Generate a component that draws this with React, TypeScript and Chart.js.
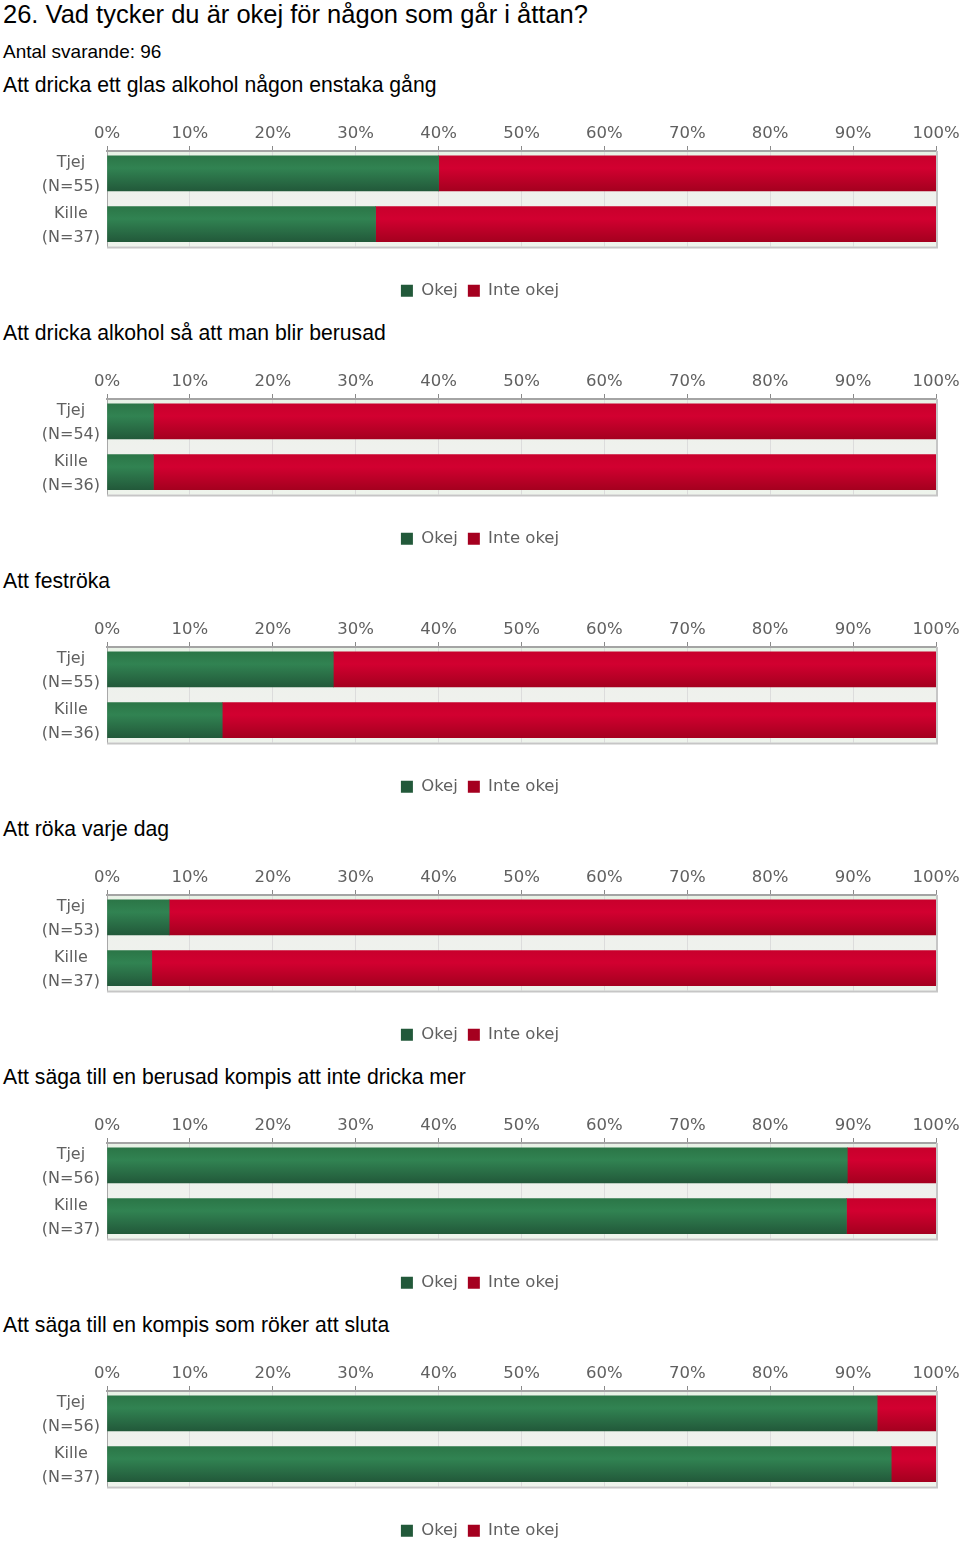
import React, { useEffect, useRef } from "react";
import { Chart, registerables } from "chart.js";

Chart.register(...registerables);

const heading = "26. Vad tycker du är okej för någon som går i åttan?";
const respondents = "Antal svarande: 96";

const questions = [
  "Att dricka ett glas alkohol någon enstaka gång",
  "Att dricka alkohol så att man blir berusad",
  "Att feströka",
  "Att röka varje dag",
  "Att säga till en berusad kompis att inte dricka mer",
  "Att säga till en kompis som röker att sluta",
];

const groups = ["Tjej", "Kille"];
const groupN = [
  [55, 37],
  [54, 36],
  [55, 36],
  [53, 37],
  [56, 37],
  [56, 37],
];

const seriesNames = ["Okej", "Inte okej"];
const okej = [
  [40.0, 32.4],
  [5.6, 5.6],
  [27.3, 13.9],
  [7.5, 5.4],
  [89.3, 89.2],
  [92.9, 94.6],
];
const inteOkej = [
  [60.0, 67.6],
  [94.4, 94.4],
  [72.7, 86.1],
  [92.5, 94.6],
  [10.7, 10.8],
  [7.1, 5.4],
];

const GREEN_STOPS: [number, string][] = [
  [0, "#2b7647"],
  [0.35, "#318352"],
  [1, "#22593a"],
];
const RED_STOPS: [number, string][] = [
  [0, "#c8002c"],
  [0.35, "#d20030"],
  [1, "#a5001f"],
];
const BAR_THICKNESS = 35;
const TICK_FONT = { family: "'DejaVu Sans', sans-serif", size: 16.5 };
const LABEL_FONT = { family: "'DejaVu Sans', sans-serif", size: 16, lineHeight: 1.5 };

function barFill(stops: [number, string][], flat: string) {
  return (ctx: any) => {
    if (ctx.type !== "data") return flat;
    const chart = ctx.chart;
    const ys = chart.scales && chart.scales.y;
    if (!ys || !chart.chartArea) return flat;
    const c = ys.getPixelForValue(ctx.dataIndex);
    const g = chart.ctx.createLinearGradient(0, c - BAR_THICKNESS / 2, 0, c + BAR_THICKNESS / 2);
    stops.forEach(([o, col]) => g.addColorStop(o, col));
    return g;
  };
}

const plotFrame = {
  id: "plotFrame",
  beforeDraw(chart: any) {
    const { ctx, chartArea: a } = chart;
    ctx.save();
    const g = ctx.createLinearGradient(0, a.top, 0, a.bottom);
    g.addColorStop(0, "#e8f2e6");
    g.addColorStop(0.5, "#eff1ed");
    g.addColorStop(1, "#eef4ec");
    ctx.fillStyle = g;
    ctx.fillRect(a.left, a.top, a.right - a.left, a.bottom - a.top);
    ctx.restore();
  },
  afterDraw(chart: any) {
    const { ctx, chartArea: a } = chart;
    ctx.save();
    ctx.strokeStyle = "#c6c6c6";
    ctx.lineWidth = 2;
    ctx.beginPath();
    ctx.moveTo(a.left, a.bottom + 1);
    ctx.lineTo(a.right + 2, a.bottom + 1);
    ctx.moveTo(a.right + 1, a.top);
    ctx.lineTo(a.right + 1, a.bottom + 1);
    ctx.stroke();
    ctx.restore();
  },
};

function BarChart({ q }: { q: number }) {
  const ref = useRef<HTMLCanvasElement | null>(null);
  useEffect(() => {
    if (!ref.current) return;
    const chart = new Chart(ref.current, {
      type: "bar",
      data: {
        datasets: [
          {
            label: seriesNames[0],
            data: okej[q].map((v, i) => ({ x: v, y: i })),
            backgroundColor: barFill(GREEN_STOPS, "#2e7d4a"),
            barThickness: BAR_THICKNESS,
          },
          {
            label: seriesNames[1],
            data: inteOkej[q].map((v, i) => ({ x: v, y: i })),
            backgroundColor: barFill(RED_STOPS, "#cc0030"),
            barThickness: BAR_THICKNESS,
          },
        ],
      },
      options: {
        indexAxis: "y",
        animation: false,
        responsive: false,
        events: [],
        layout: { padding: { top: 0, left: 24, right: 24, bottom: 11 } },
        scales: {
          x: {
            type: "linear",
            position: "top",
            stacked: true,
            min: 0,
            max: 100,
            ticks: {
              stepSize: 10,
              padding: 2,
              color: "#606060",
              font: TICK_FONT,
              callback: (v: any) => v + "%",
              maxRotation: 0,
            },
            grid: { color: "#dcdcdc", tickColor: "#8a8a8a", tickLength: 5, drawTicks: true },
            border: { color: "#a4a4a4", width: 2 },
            afterFit: (s: any) => {
              s.height = 55;
              s.paddingLeft = 0;
              s.paddingRight = 0;
            },
          },
          y: {
            type: "linear",
            stacked: true,
            reverse: true,
            offset: false,
            min: -0.441,
            max: 1.441,
            afterBuildTicks: (s: any) => {
              s.ticks = groups.map((_, i) => ({ value: i }));
            },
            ticks: {
              padding: 7,
              autoSkip: false,
              crossAlign: "center",
              labelOffset: 1.5,
              color: "#606060",
              font: LABEL_FONT,
              callback: (v: any) => [groups[v], "(N=" + groupN[q][v] + ")"],
            },
            grid: { display: false, drawTicks: false, offset: false },
            border: { color: "#a8a8a8", width: 1 },
            afterFit: (s: any) => {
              s.width = 83;
            },
          },
          gap: {
            type: "linear",
            position: "bottom",
            display: true,
            grid: { display: false, drawTicks: false },
            border: { display: false },
            ticks: { display: false },
            afterFit: (s: any) => {
              s.height = 26;
            },
          },
        },
        plugins: {
          legend: {
            position: "bottom",
            labels: {
              boxWidth: 12,
              boxHeight: 12,
              padding: 10,
              color: "#606060",
              font: { family: "'DejaVu Sans', sans-serif", size: 16.5 },
            },
          },
          tooltip: { enabled: false },
        },
      },
      plugins: [plotFrame],
    } as any);
    return () => chart.destroy();
  }, [q]);
  return <canvas ref={ref} width={960} height={224} style={{ display: "block", width: 960, height: 224 }} />;
}

export default function App() {
  const textFont = "'Liberation Sans', Arial, sans-serif";
  return (
    <div
      style={{
        position: "absolute",
        left: 0,
        top: 0,
        width: 960,
        height: 1544,
        overflow: "hidden",
        background: "#ffffff",
        fontFamily: textFont,
        color: "#000",
      }}
    >
      <div style={{ position: "absolute", left: 3, top: 0, fontSize: 25.5, lineHeight: "normal", whiteSpace: "nowrap" }}>
        {heading}
      </div>
      <div style={{ position: "absolute", left: 3, top: 40.5, fontSize: 19, lineHeight: "normal", whiteSpace: "nowrap" }}>
        {respondents}
      </div>
      {questions.map((title, i) => (
        <React.Fragment key={i}>
          <div
            style={{
              position: "absolute",
              left: 3,
              top: 72.5 + 248 * i,
              fontSize: 21.2,
              lineHeight: "normal",
              whiteSpace: "nowrap",
            }}
          >
            {title}
          </div>
          <div style={{ position: "absolute", left: 0, top: 96 + 248 * i, width: 960, height: 224 }}>
            <BarChart q={i} />
          </div>
        </React.Fragment>
      ))}
    </div>
  );
}
